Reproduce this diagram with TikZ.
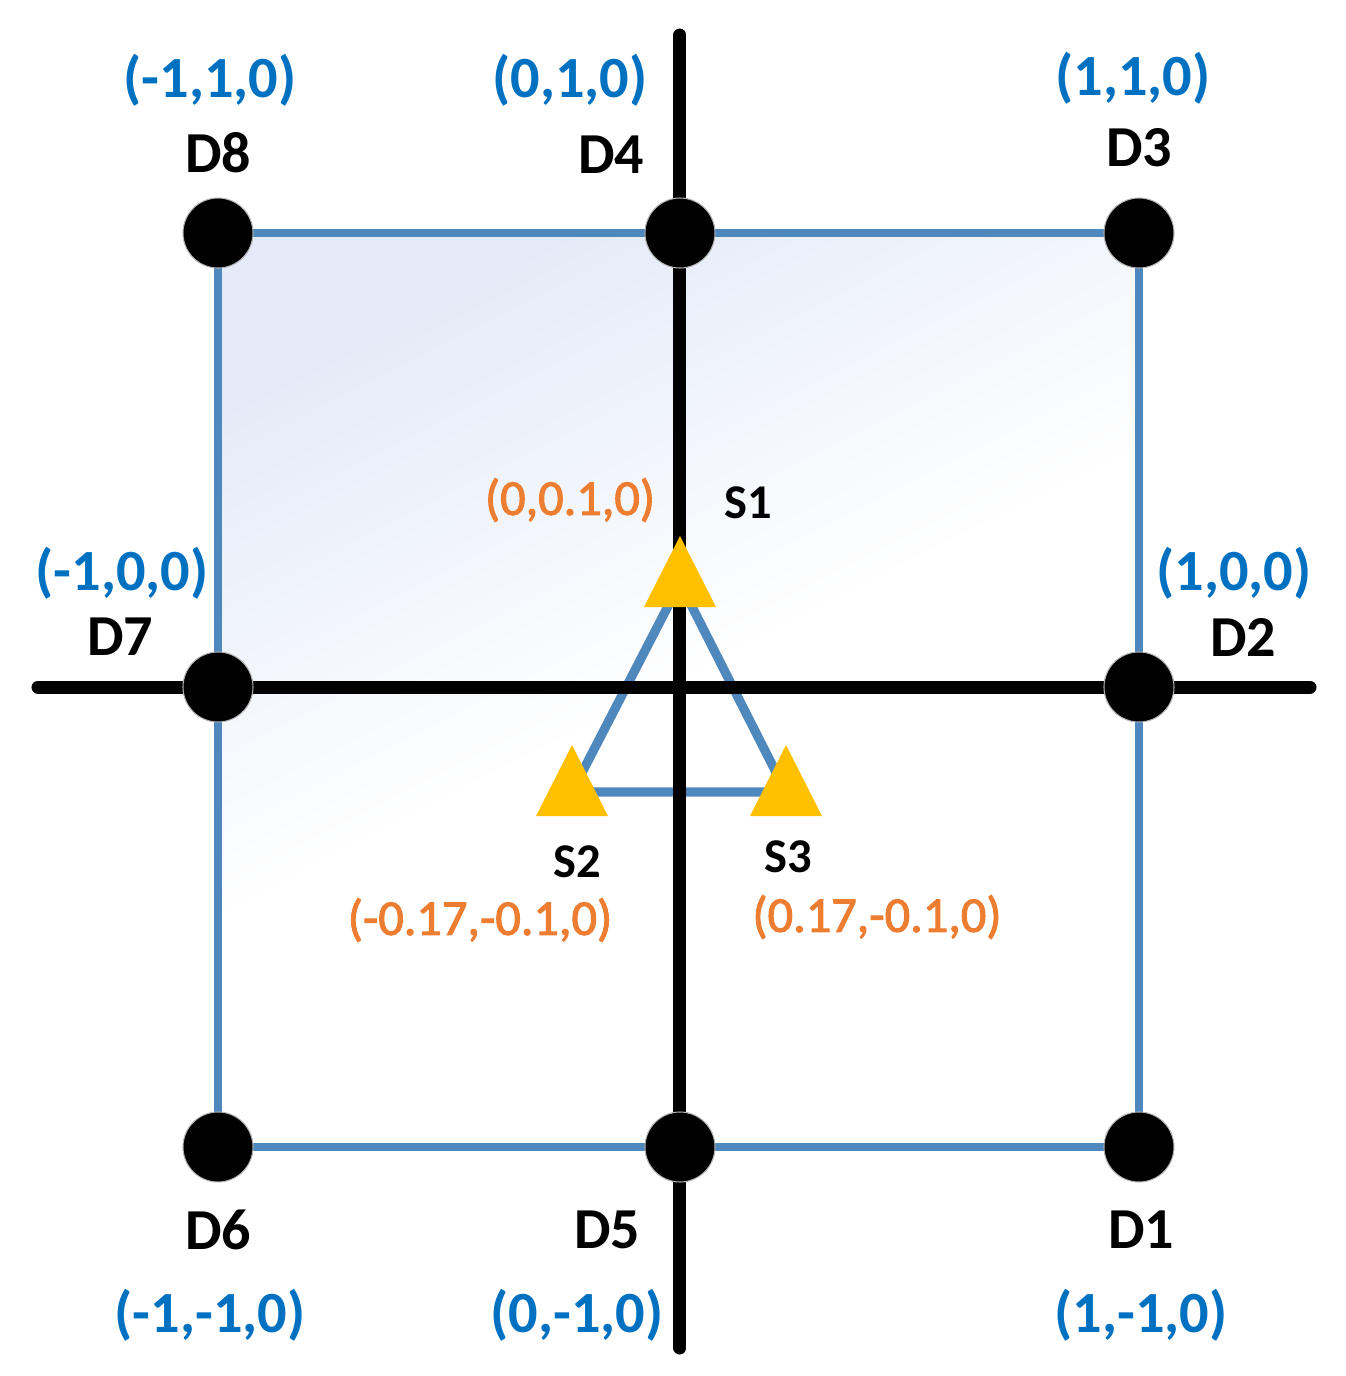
\documentclass[tikz,border=0pt]{standalone}
\usepackage{fontspec}
\setmainfont{Carlito}
\newfontfamily\mediumfont[FakeBold=2]{Carlito}
\usepackage{xcolor}
\usetikzlibrary{positioning}
\usetikzlibrary{backgrounds}
\definecolor{coordblue}{RGB}{0,112,192}
\definecolor{coordorange}{RGB}{237,125,49}
\definecolor{sensoryellow}{RGB}{255,192,0}
\definecolor{edgeblue}{RGB}{79,136,189}
\definecolor{fillblue}{RGB}{228,235,248}

\begin{document}
\begin{tikzpicture}
        \tikzstyle{dot} = [circle, fill=black, draw=black!30, line width=0.3pt, inner sep=0pt, minimum size=0.7cm]
        \tikzstyle{dlabel} = [font=\fontsize{16.5}{19}\selectfont\bfseries, inner sep=0pt]
        \tikzstyle{dpos} = [font=\fontsize{16.6}{19}\selectfont\bfseries, text=coordblue, inner sep=0pt]
        \tikzstyle{slabel} = [font=\fontsize{13.8}{16}\selectfont\bfseries, inner sep=0pt]
        \tikzstyle{spos} = [font=\mediumfont\fontsize{14.3}{17}\selectfont, text=coordorange, inner sep=0pt]
        \tikzstyle{edge} = [draw=edgeblue, line width=2pt]
        \tikzstyle{link} = [draw=edgeblue, line width=2.6pt, line join=round]
        \tikzstyle{axis} = [draw, line width=3.7pt, line cap=round]
        \tikzset{sensor/.pic={\fill[sensoryellow] (0,0.47) -- (-0.36,-0.24) -- (0.36,-0.24) -- cycle;}}

        \useasboundingbox (-6.80,-6.89) rectangle (6.66,6.87);

        \node [dot] (d8) at (-4.62, 4.54) {};
        \node [dot] (d4) at (0, 4.54) {};
        \node [dot] (d3) at (4.59, 4.54) {};
        \node [dot] (d7) at (-4.62, 0) {};
        \node [dot] (d2) at (4.59, 0) {};
        \node [dot] (d6) at (-4.62, -4.60) {};
        \node [dot] (d5) at (0, -4.60) {};
        \node [dot] (d1) at (4.59, -4.60) {};

        \coordinate (s1) at (0, 1.04);
        \coordinate (s2) at (-1.08, -1.05);
        \coordinate (s3) at (1.06, -1.05);
        \coordinate (ytop) at (0, 6.52);
        \coordinate (ybottom) at (0, -6.61);
        \coordinate (xleft) at (-6.42, 0);
        \coordinate (xright) at (6.30, 0);

        \begin{scope}[on background layer]
        \shade [top color=fillblue, bottom color=white, middle color=white, shading angle=27] (d8.center) rectangle (d1.center);
        \path [edge] (d8.center) -- (d4.center) -- (d3.center) -- (d2.center) -- (d1.center) -- (d5.center) -- (d6.center) -- (d7.center) -- cycle;
        \path [link] (s1) -- (s2) -- (s3) -- cycle;
        \path [axis] (ytop) -- (ybottom);
        \path [axis] (xleft) -- (xright);
        \end{scope}

        \pic (sensor1) at (s1) {sensor};
        \pic (sensor2) at (s2) {sensor};
        \pic (sensor3) at (s3) {sensor};

        \node [dlabel, above of=d8, node distance=0.80cm] (l8) {D8};
        \node [dpos, above of=l8, node distance=0.73cm, xshift=-0.08cm] (c8) {(-1,1,0)};
        \node [dlabel, above of=d4, node distance=0.78cm, xshift=-0.69cm] (l4) {D4};
        \node [dpos, above of=l4, node distance=0.75cm, xshift=-0.41cm] (c4) {(0,1,0)};
        \node [dlabel, above of=d3, node distance=0.85cm] (l3) {D3};
        \node [dpos, above of=l3, node distance=0.70cm, xshift=-0.06cm] (c3) {(1,1,0)};
        \node [dlabel, above of=d7, node distance=0.50cm, xshift=-0.98cm] (l7) {D7};
        \node [dpos, above of=l7, node distance=0.64cm, xshift=0.02cm] (c7) {(-1,0,0)};
        \node [dlabel, above of=d2, node distance=0.50cm, xshift=1.04cm] (l2) {D2};
        \node [dpos, above of=l2, node distance=0.64cm, xshift=-0.09cm] (c2) {(1,0,0)};
        \node [dlabel, below of=d6, node distance=0.83cm] (l6) {D6};
        \node [dpos, below of=l6, node distance=0.85cm, xshift=-0.08cm] (c6) {(-1,-1,0)};
        \node [dlabel, below of=d5, node distance=0.83cm, xshift=-0.73cm] (l5) {D5};
        \node [dpos, below of=l5, node distance=0.85cm, xshift=-0.30cm] (c5) {(0,-1,0)};
        \node [dlabel, below of=d1, node distance=0.83cm, xshift=0.02cm] (l1) {D1};
        \node [dpos, below of=l1, node distance=0.85cm] (c1) {(1,-1,0)};

        \node [slabel, above of=s1, node distance=0.80cm, xshift=0.68cm] (ls1) {S1};
        \node [spos, above of=s1, node distance=0.83cm, xshift=-1.10cm] (cs1) {(0,0.1,0)};
        \node [slabel, below of=s2, node distance=0.70cm, xshift=0.05cm] (ls2) {S2};
        \node [spos, below of=s2, node distance=1.28cm, xshift=-0.92cm] (cs2) {(-0.17,-0.1,0)};
        \node [slabel, below of=s3, node distance=0.65cm, xshift=0.02cm] (ls3) {S3};
        \node [spos, below of=s3, node distance=1.25cm, xshift=0.91cm] (cs3) {(0.17,-0.1,0)};
    \end{tikzpicture}
\end{document}
